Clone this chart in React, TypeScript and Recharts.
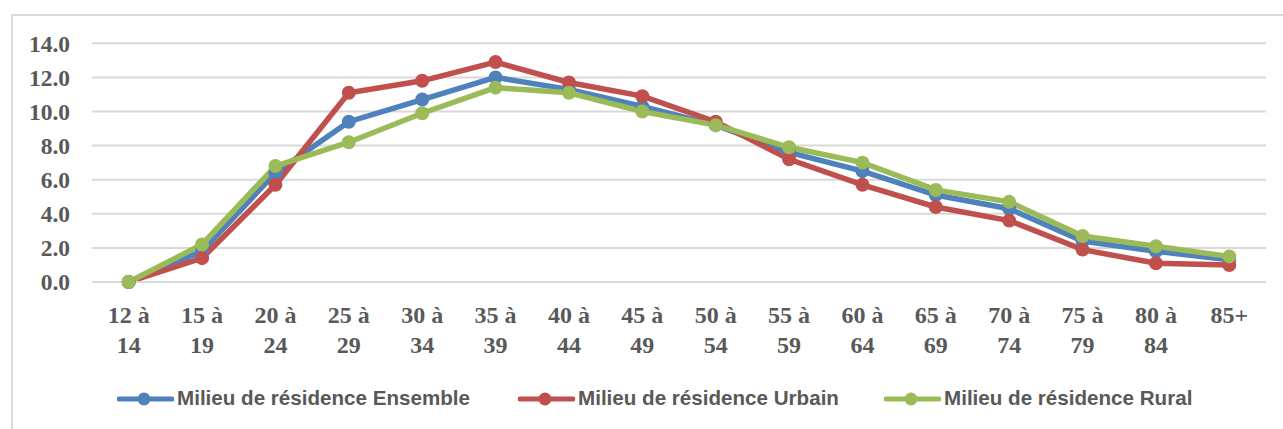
import React from "react";
import { LineChart, Line, XAxis, YAxis, CartesianGrid } from "recharts";

const categories = [
  "12 à 14", "15 à 19", "20 à 24", "25 à 29", "30 à 34", "35 à 39", "40 à 44", "45 à 49",
  "50 à 54", "55 à 59", "60 à 64", "65 à 69", "70 à 74", "75 à 79", "80 à 84", "85+",
];
const ensemble = [0, 1.8, 6.4, 9.4, 10.7, 12.0, 11.3, 10.3, 9.2, 7.6, 6.5, 5.1, 4.3, 2.4, 1.8, 1.3];
const urbain = [0, 1.4, 5.7, 11.1, 11.8, 12.9, 11.7, 10.9, 9.4, 7.2, 5.7, 4.4, 3.6, 1.9, 1.1, 1.0];
const rural = [0, 2.2, 6.8, 8.2, 9.9, 11.4, 11.1, 10.0, 9.2, 7.9, 7.0, 5.4, 4.7, 2.7, 2.1, 1.5];
const yTicks = [0, 2, 4, 6, 8, 10, 12, 14];

const seriesNames = [
  "Milieu de résidence Ensemble",
  "Milieu de résidence Urbain",
  "Milieu de résidence Rural",
];
const colors = ["#4F81BD", "#C0504D", "#9BBB59"];
const keys = ["ensemble", "urbain", "rural"];

const data = categories.map((c, i) => ({
  cat: c,
  ensemble: ensemble[i],
  urbain: urbain[i],
  rural: rural[i],
}));

const TEXT = "#595959";
const SERIF = "'Liberation Serif', 'Times New Roman', serif";
const SANS = "'Liberation Sans', Arial, sans-serif";

const XTick = (props: any) => {
  const { x, y, payload } = props;
  const parts = String(payload.value).split(" à ");
  const l1 = parts.length > 1 ? parts[0] + " à" : parts[0];
  const l2 = parts.length > 1 ? parts[1] : null;
  return (
    <g>
      <text x={x} y={y + 41} textAnchor="middle" fill={TEXT} fontFamily={SERIF} fontWeight="bold" fontSize={24}>
        {l1}
      </text>
      {l2 !== null && (
        <text x={x} y={y + 71} textAnchor="middle" fill={TEXT} fontFamily={SERIF} fontWeight="bold" fontSize={24}>
          {l2}
        </text>
      )}
    </g>
  );
};

const legendLefts = [117, 518, 884];

export default function App() {
  return (
    <div style={{ position: "absolute", left: 0, top: 0, width: 1283, height: 429, overflow: "hidden", background: "#fff" }}>
      <div
        style={{
          position: "absolute",
          left: 11,
          top: 14,
          width: 1400,
          height: 600,
          border: "2px solid #d9d9d9",
          boxSizing: "border-box",
        }}
      />
      <div style={{ position: "absolute", left: 0, top: 0 }}>
        <LineChart width={1283} height={429} data={data} margin={{ top: 43.3, right: 17, bottom: 0, left: 0 }}>
          <CartesianGrid vertical={false} stroke="#d9d9d9" strokeWidth={2} />
          <XAxis
            dataKey="cat"
            interval={0}
            height={147}
            padding={{ left: 36.7, right: 36.7 }}
            tickLine={false}
            tickSize={0}
            tickMargin={0}
            axisLine={{ stroke: "#d9d9d9", strokeWidth: 2 }}
            tick={<XTick />}
          />
          <YAxis
            domain={[0, 14]}
            ticks={yTicks}
            width={92}
            axisLine={false}
            tickLine={false}
            tickSize={0}
            tickMargin={22}
            tickFormatter={(v: number) => v.toFixed(1)}
            tick={{ fill: TEXT, fontFamily: SERIF, fontWeight: "bold", fontSize: 23.5 }}
          />
          {keys.map((k, i) => (
            <Line
              key={k}
              type="linear"
              dataKey={k}
              name={seriesNames[i]}
              stroke={colors[i]}
              strokeWidth={5.5}
              dot={{ r: 6, fill: colors[i], stroke: colors[i], strokeWidth: 2 }}
              activeDot={false}
              isAnimationActive={false}
            />
          ))}
        </LineChart>
      </div>
      {seriesNames.map((n, i) => (
        <div
          key={n}
          style={{
            position: "absolute",
            left: legendLefts[i],
            top: 386,
            height: 24,
            display: "flex",
            alignItems: "center",
            whiteSpace: "nowrap",
          }}
        >
          <svg width={57} height={24} style={{ display: "block" }}>
            <line x1={2} y1={13} x2={55} y2={13} stroke={colors[i]} strokeWidth={5} strokeLinecap="round" />
            <circle cx={27} cy={13} r={6.5} fill={colors[i]} />
          </svg>
          <span
            style={{
              marginLeft: 3,
              fontFamily: SANS,
              fontWeight: "bold",
              fontSize: 20.6,
              color: TEXT,
              lineHeight: "24px",
            }}
          >
            {n}
          </span>
        </div>
      ))}
    </div>
  );
}
